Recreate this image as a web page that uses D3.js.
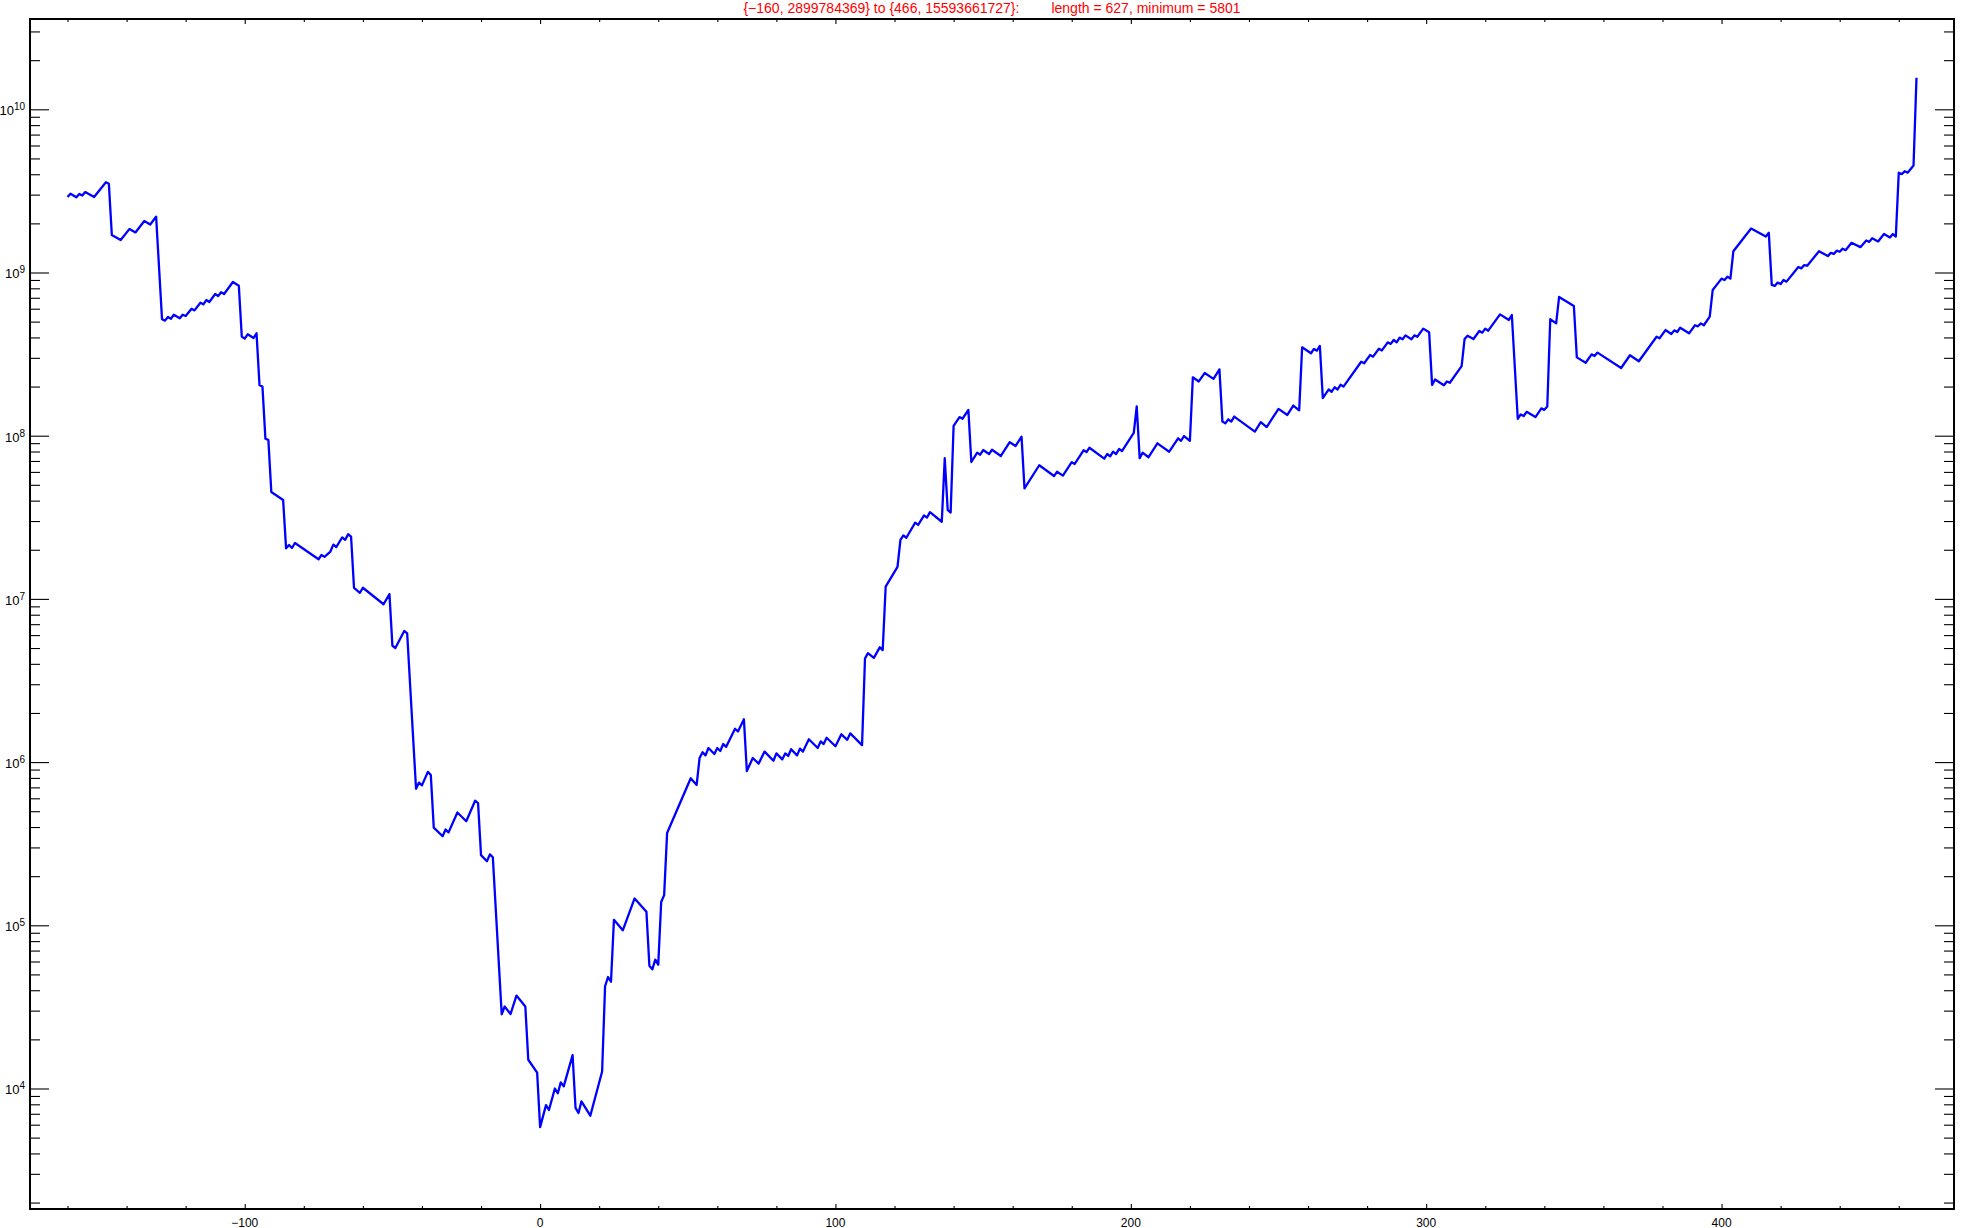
<!DOCTYPE html>
<html>
<head>
<meta charset="utf-8">
<script src="https://cdn.jsdelivr.net/npm/d3@7"></script>
<style>
  html, body { margin: 0; padding: 0; background: #fff; }
  svg { display: block; font-family: "Liberation Sans", Arial, sans-serif; }
</style>
</head>
<body>
<div id="grafico"></div>
<script>
// x positions of the visible vertices of the curve
const steps = [
  -160, -159, -157, -156, -155, -154, -151, -147, -146, -145, -142, -139, -137, -134, -132, -130,
  -128, -127, -126, -125, -124, -122, -121, -120, -118, -117, -115, -114, -113, -112, -110, -109,
  -108, -107, -104, -102, -101, -100, -99, -97, -96, -95, -94, -93, -92, -91, -87, -86,
  -85, -84, -83, -75, -74, -73, -71, -70, -69, -67, -66, -65, -64, -63, -61, -60,
  -53, -51, -50, -49, -46, -45, -42, -41, -40, -38, -37, -36, -33, -32, -31, -28,
  -25, -22, -21, -20, -18, -17, -16, -13, -12, -10, -8, -5, -4, -1, 0, 2,
  3, 5, 6, 7, 8, 11, 12, 13, 14, 17, 21, 22, 23, 24, 25, 28,
  32, 36, 37, 38, 39, 40, 41, 42, 43, 51, 53, 54, 55, 56, 57, 59,
  60, 61, 62, 63, 66, 67, 69, 70, 72, 74, 76, 79, 80, 82, 83, 84,
  85, 87, 88, 89, 91, 94, 95, 96, 97, 100, 102, 104, 105, 109, 110, 111,
  113, 115, 116, 117, 121, 122, 123, 124, 127, 128, 130, 131, 132, 136, 137, 138,
  139, 140, 142, 143, 145, 146, 148, 149, 150, 152, 153, 156, 159, 161, 163, 164,
  169, 174, 175, 177, 180, 181, 184, 185, 186, 191, 192, 193, 194, 195, 196, 197,
  201, 202, 203, 204, 206, 209, 213, 216, 217, 218, 220, 221, 223, 225, 228, 230,
  231, 232, 233, 234, 235, 242, 244, 246, 250, 253, 255, 257, 258, 261, 262, 263,
  264, 265, 267, 268, 269, 270, 271, 272, 278, 279, 281, 282, 284, 285, 287, 288,
  289, 290, 291, 292, 293, 295, 296, 297, 299, 301, 302, 303, 306, 307, 308, 312,
  313, 314, 316, 318, 319, 320, 321, 325, 328, 329, 331, 332, 333, 334, 337, 339,
  340, 341, 342, 344, 345, 350, 351, 354, 356, 357, 358, 366, 369, 372, 378, 379,
  381, 383, 384, 385, 386, 389, 391, 392, 393, 394, 396, 397, 400, 401, 402, 403,
  404, 410, 415, 416, 417, 418, 419, 420, 421, 422, 426, 427, 428, 429, 433, 436,
  437, 438, 439, 440, 441, 442, 444, 447, 449, 450, 451, 453, 455, 457, 458, 459,
  460, 461, 462, 463, 465, 466
];

const values = [
  2899784369, 3.04e9, 2.89e9, 3.03e9, 2.96e9, 3.11e9, 2.90e9, 3.57e9, 3.50e9, 1.70e9, 1.58e9, 1.85e9, 1.76e9, 2.07e9, 1.97e9, 2.20e9,
  5.17e8, 5.07e8, 5.34e8, 5.21e8, 5.51e8, 5.24e8, 5.51e8, 5.41e8, 6.00e8, 5.86e8, 6.53e8, 6.38e8, 6.78e8, 6.59e8, 7.38e8, 7.18e8,
  7.57e8, 7.38e8, 8.75e8, 8.30e8, 4.05e8, 3.93e8, 4.18e8, 3.97e8, 4.24e8, 2.04e8, 2.00e8, 9.59e7, 9.42e7, 4.52e7, 4.04e7, 2.04e7,
  2.14e7, 2.05e7, 2.20e7, 1.75e7, 1.86e7, 1.81e7, 1.95e7, 2.15e7, 2.08e7, 2.38e7, 2.30e7, 2.49e7, 2.41e7, 1.17e7, 1.09e7, 1.17e7,
  9.27e6, 1.07e7, 5.16e6, 5.00e6, 6.36e6, 6.14e6, 6.86e5, 7.49e5, 7.20e5, 8.71e5, 8.34e5, 3.97e5, 3.51e5, 3.86e5, 3.71e5, 4.91e5,
  4.34e5, 5.80e5, 5.61e5, 2.69e5, 2.47e5, 2.72e5, 2.61e5, 2.85e4, 3.18e4, 2.86e4, 3.71e4, 3.18e4, 1.50e4, 1.25e4, 5801, 7.91e3,
  7.38e3, 1.00e4, 9.35e3, 1.09e4, 1.03e4, 1.60e4, 7.60e3, 7.08e3, 8.34e3, 6.81e3, 1.27e4, 4.23e4, 4.82e4, 4.51e4, 1.08e5, 9.31e4,
  1.46e5, 1.21e5, 5.65e4, 5.37e4, 6.16e4, 5.74e4, 1.39e5, 1.53e5, 3.68e5, 7.96e5, 7.24e5, 1.06e6, 1.15e6, 1.10e6, 1.22e6, 1.12e6,
  1.22e6, 1.17e6, 1.29e6, 1.24e6, 1.60e6, 1.54e6, 1.83e6, 8.81e5, 1.06e6, 9.79e5, 1.16e6, 1.02e6, 1.13e6, 1.04e6, 1.13e6, 1.09e6,
  1.20e6, 1.10e6, 1.21e6, 1.16e6, 1.38e6, 1.22e6, 1.34e6, 1.29e6, 1.41e6, 1.25e6, 1.48e6, 1.37e6, 1.50e6, 1.27e6, 4.31e6, 4.65e6,
  4.35e6, 5.05e6, 4.86e6, 1.19e7, 1.57e7, 2.30e7, 2.45e7, 2.37e7, 2.93e7, 2.84e7, 3.25e7, 3.15e7, 3.40e7, 2.97e7, 7.28e7, 3.51e7,
  3.38e7, 1.15e8, 1.30e8, 1.27e8, 1.44e8, 6.90e7, 7.87e7, 7.65e7, 8.17e7, 7.72e7, 8.20e7, 7.51e7, 9.12e7, 8.65e7, 9.87e7, 4.76e7,
  6.59e7, 5.66e7, 6.01e7, 5.69e7, 6.88e7, 6.71e7, 8.14e7, 7.94e7, 8.44e7, 7.23e7, 7.72e7, 7.48e7, 7.98e7, 7.72e7, 8.28e7, 8.05e7,
  1.04e8, 1.51e8, 7.28e7, 7.87e7, 7.38e7, 8.98e7, 7.98e7, 9.64e7, 9.31e7, 9.95e7, 9.31e7, 2.28e8, 2.15e8, 2.42e8, 2.23e8, 2.55e8,
  1.22e8, 1.19e8, 1.26e8, 1.22e8, 1.31e8, 1.06e8, 1.21e8, 1.13e8, 1.46e8, 1.34e8, 1.53e8, 1.43e8, 3.48e8, 3.20e8, 3.40e8, 3.32e8,
  3.55e8, 1.70e8, 1.92e8, 1.86e8, 1.98e8, 1.92e8, 2.05e8, 2.00e8, 2.84e8, 2.78e8, 3.12e8, 3.05e8, 3.41e8, 3.33e8, 3.73e8, 3.65e8,
  3.86e8, 3.73e8, 3.99e8, 3.90e8, 4.12e8, 3.90e8, 4.12e8, 4.04e8, 4.53e8, 4.30e8, 2.05e8, 2.21e8, 2.04e8, 2.15e8, 2.11e8, 2.67e8,
  3.91e8, 4.10e8, 3.91e8, 4.38e8, 4.28e8, 4.53e8, 4.40e8, 5.54e8, 5.12e8, 5.49e8, 1.27e8, 1.35e8, 1.32e8, 1.40e8, 1.30e8, 1.47e8,
  1.44e8, 1.51e8, 5.17e8, 4.88e8, 7.08e8, 6.23e8, 3.02e8, 2.80e8, 3.15e8, 3.08e8, 3.23e8, 2.60e8, 3.11e8, 2.86e8, 4.04e8, 3.95e8,
  4.44e8, 4.20e8, 4.42e8, 4.32e8, 4.59e8, 4.24e8, 4.75e8, 4.68e8, 4.88e8, 4.75e8, 5.36e8, 7.81e8, 9.17e8, 9.00e8, 9.43e8, 9.17e8,
  1.35e9, 1.86e9, 1.66e9, 1.75e9, 8.39e8, 8.27e8, 8.67e8, 8.50e8, 9.00e8, 8.79e8, 1.08e9, 1.06e9, 1.11e9, 1.10e9, 1.35e9, 1.26e9,
  1.32e9, 1.30e9, 1.36e9, 1.34e9, 1.40e9, 1.37e9, 1.52e9, 1.43e9, 1.57e9, 1.54e9, 1.62e9, 1.55e9, 1.72e9, 1.64e9, 1.72e9, 1.66e9,
  4.09e9, 4.01e9, 4.17e9, 4.09e9, 4.52e9, 15593661727
];

const xMajor = [-100, 0, 100, 200, 300, 400];
const xMinor = [-160, -140, -120, -80, -60, -40, -20, 20, 40, 60, 80, 120, 140, 160, 180,
  220, 240, 260, 280, 320, 340, 360, 380, 420, 440, 460];
const decades = [3, 4, 5, 6, 7, 8, 9, 10];
const mantissas = [2, 3, 4, 5, 6, 7, 8, 9];
const titleLeft = "{\u2212160, 2899784369} to {466, 15593661727}:";
const titleRight = "length = 627, minimum = 5801";

const width = 1961;
const height = 1228;
const margin = { top: 19, right: 7, bottom: 19, left: 30 };

const svg = d3
  .select("#grafico")
  .append("svg")
  .attr("width", width)
  .attr("height", height);

svg.append("rect").attr("width", width).attr("height", height).attr("fill", "#fff");

const x = d3
  .scaleLinear()
  .domain([-172.7, 478.7])
  .range([margin.left, width - margin.right]);

const y = d3
  .scaleLog()
  .domain([Math.pow(10, 3.2616), Math.pow(10, 10.5533)])
  .range([height - margin.bottom, margin.top]);

const [yLo, yHi] = y.domain();
const yMajor = decades.map((k) => Math.pow(10, k)).filter((v) => v >= yLo && v <= yHi);
const yMinor = [];
decades.forEach((k) => {
  mantissas.forEach((m) => {
    const v = m * Math.pow(10, k);
    if (v >= yLo && v <= yHi) yMinor.push(v);
  });
});

// ticks on all four sides, pointing inward
function ticks(axis, tr, vals, size) {
  const g = svg
    .append("g")
    .attr("transform", tr)
    .call(axis.tickValues(vals).tickSize(size).tickSizeOuter(0).tickFormat(""));
  g.select(".domain").remove();
  g.selectAll("line").attr("stroke", "#000").attr("stroke-width", 1.1);
}

ticks(d3.axisTop(x), `translate(0,${height - margin.bottom})`, xMinor, 3);
ticks(d3.axisTop(x), `translate(0,${height - margin.bottom})`, xMajor, 5);
ticks(d3.axisBottom(x), `translate(0,${margin.top})`, xMinor, 3);
ticks(d3.axisBottom(x), `translate(0,${margin.top})`, xMajor, 5);
ticks(d3.axisRight(y), `translate(${margin.left},0)`, yMinor, 10);
ticks(d3.axisRight(y), `translate(${margin.left},0)`, yMajor, 19);
ticks(d3.axisLeft(y), `translate(${width - margin.right},0)`, yMinor, 10);
ticks(d3.axisLeft(y), `translate(${width - margin.right},0)`, yMajor, 19);

// frame
svg
  .append("rect")
  .attr("x", margin.left)
  .attr("y", margin.top)
  .attr("width", width - margin.left - margin.right)
  .attr("height", height - margin.top - margin.bottom)
  .attr("fill", "none")
  .attr("stroke", "#000")
  .attr("stroke-width", 2);

// x labels
svg
  .append("g")
  .selectAll("text")
  .data(xMajor)
  .join("text")
  .attr("x", (d) => x(d))
  .attr("y", height - 1.5)
  .attr("text-anchor", "middle")
  .style("font-size", "12px")
  .text((d) => (d < 0 ? "\u2212" + Math.abs(d) : d));

// y labels 10^k
const yl = svg
  .append("g")
  .selectAll("text")
  .data(yMajor)
  .join("text")
  .attr("x", 25)
  .attr("y", (d) => y(d) + 6)
  .attr("text-anchor", "end");
yl.append("tspan").style("font-size", "13px").text("10");
yl.append("tspan")
  .attr("dy", -5)
  .style("font-size", "10px")
  .text((d) => Math.round(Math.log10(d)));

// the curve
const pts = steps.map((s, i) => [s, values[i]]);
svg
  .append("path")
  .datum(pts)
  .attr("fill", "none")
  .attr("stroke", "#0000ff")
  .attr("stroke-width", 2.3)
  .attr("stroke-linejoin", "round")
  .attr("d", d3.line().x((d) => x(d[0])).y((d) => y(d[1])));

// title
const gap = 32;
const title = svg.append("g").style("font-size", "14px").attr("fill", "#ff0000");
const t1 = title.append("text").attr("y", 13).text(titleLeft);
const t2 = title.append("text").attr("y", 13).text(titleRight);
const w1 = t1.node().getComputedTextLength();
const w2 = t2.node().getComputedTextLength();
const cx = (margin.left + width - margin.right) / 2;
const start = cx - (w1 + gap + w2) / 2;
t1.attr("x", start);
t2.attr("x", start + w1 + gap);
</script>
</body>
</html>
